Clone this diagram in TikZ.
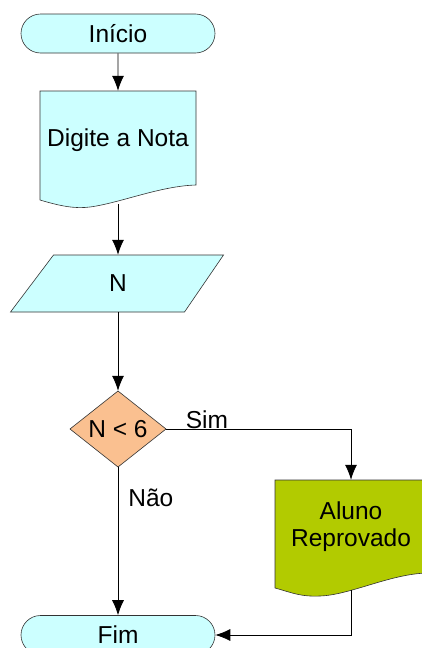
\documentclass[tikz,border=0pt]{standalone}
\usepackage{fontspec}
\setmainfont{Liberation Sans}
\usetikzlibrary{shapes.misc,arrows.meta,calc}
\definecolor{flowcyan}{HTML}{CCFFFF}
\definecolor{flowpeach}{HTML}{FAC090}
\definecolor{flowgreen}{HTML}{B2CB00}
\tikzset{
  txt/.style={font=\fontsize{24.5}{27}\selectfont, inner sep=0pt, align=center},
  terminal/.style={txt, rounded rectangle, draw=black!80, line width=0.6pt, fill=flowcyan, minimum width=194, minimum height=39},
  shapebox/.style={txt, draw=none},
  outline/.style={draw=black!80, line width=0.6pt},
  conn/.style={line width=0.8pt, -{Latex[length=15pt,width=12pt]}},
}
\begin{document}
\begin{tikzpicture}[x=1pt,y=-1pt]
\useasboundingbox (0,0) rectangle (422,648);
% shapes drawn first
\filldraw[outline, fill=flowcyan] (40,91) -- (196,91) -- (196,185) .. controls (160,186) and (120,203) .. (90,207) .. controls (75,209) and (60,206) .. (40,200) -- cycle;
\filldraw[outline, fill=flowcyan] (53.5,255) -- (223.5,255) -- (184.5,312) -- (10.5,312) -- cycle;
\filldraw[outline, fill=flowpeach] (118,391) -- (166,429) -- (118,467) -- (70,429) -- cycle;
\filldraw[outline, fill=flowgreen] (275,480) -- (427,480) -- (427,573) .. controls (390,574) and (350,595) .. (320,596) .. controls (300,597) and (290,592) .. (275,588) -- cycle;
% nodes
\node[terminal] (inicio) at (118,33.5) {Início};
\node[shapebox, minimum width=156, minimum height=113] (doc1) at (118,147.5) {};
\node[txt] at ([yshift=7pt]doc1.center) {Digite a Nota};
\node[shapebox, minimum width=170, minimum height=57] (inp) at (118,283.5) {N};
\node[shapebox, minimum width=96, minimum height=76] (dec) at (118,429) {N < 6};
\node[shapebox, minimum width=152, minimum height=110] (doc2) at (351,535) {};
\node[txt] at ([yshift=8pt]doc2.center) {Aluno\\Reprovado};
\node[terminal] (fim) at (118,635) {Fim};
% connectors
\draw[conn] (inicio) -- (doc1);
\draw[conn] (doc1) -- (inp);
\draw[conn] (inp) -- (dec);
\draw[conn] (dec.east) -| node[txt, pos=0.11, above] {Sim} (doc2.north);
\draw[conn] (dec.south) -- node[txt, pos=0.21, right=10pt] {Não} (fim.north);
\draw[conn] (doc2.south) |- (fim.east);
\end{tikzpicture}
\end{document}
